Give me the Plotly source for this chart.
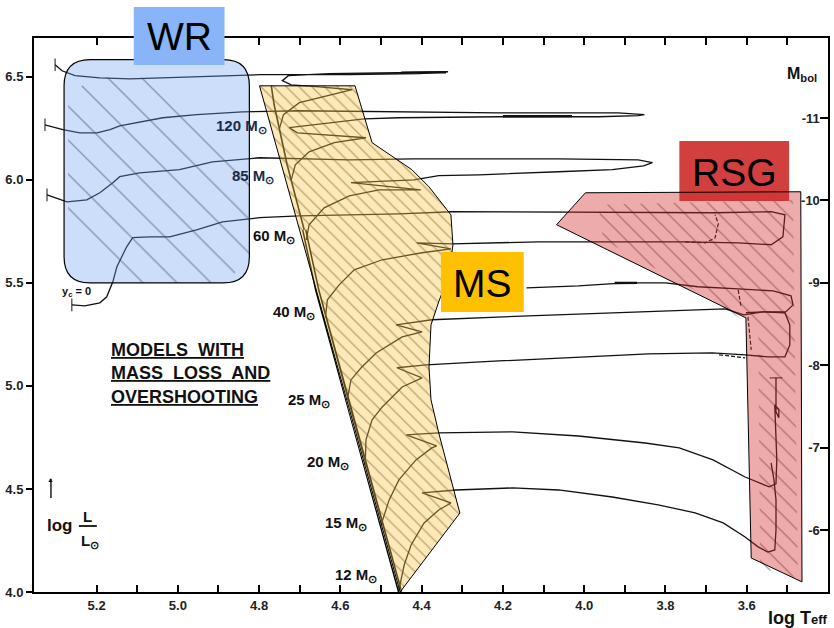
import plotly.graph_objects as go

# ---------------- axes ----------------
logT_range = [5.354, 3.40]
logL_range = [4.0, 6.688]
logT_ticks = [5.2, 5.0, 4.8, 4.6, 4.4, 4.2, 4.0, 3.8, 3.6]
logT_ticktext = ["5.2", "5.0", "4.8", "4.6", "4.4", "4.2", "4.0", "3.8", "3.6"]
logT_minor_ticks = [5.1, 4.9, 4.7, 4.5, 4.3, 4.1, 3.9, 3.7, 3.5]
logL_ticks = [4.0, 4.5, 5.0, 5.5, 6.0, 6.5]
logL_ticktext = ["4.0", "4.5", "5.0", "5.5", "6.0", "6.5"]
mbol_ticks = [-11, -10, -9, -8, -7, -6]
mbol_ticktext = ["-11", "-10", "-9", "-8", "-7", "-6"]

# ---------------- ZAMS ----------------
zams_logT = [4.453, 4.574, 4.657, 4.689, 4.731, 4.763, 4.770]
zams_logL = [4.000, 4.859, 5.466, 5.757, 6.073, 6.364, 6.456]

# ---------------- evolutionary tracks ----------------
m120_logT = [4.750, 4.740, 4.701, 4.628, 4.571, 4.652, 4.721, 4.743, 4.728, 4.628, 4.335, 4.407, 4.578, 4.799, 4.947, 5.118, 5.192, 5.253, 5.285, 5.302]
m120_logL = [6.248, 6.316, 6.374, 6.408, 6.437, 6.451, 6.461, 6.481, 6.505, 6.515, 6.524, 6.515, 6.510, 6.510, 6.500, 6.490, 6.495, 6.505, 6.529, 6.558]

m85_logT = [4.721, 4.711, 4.677, 4.615, 4.537, 4.706, 4.726, 4.628, 4.542, 4.456, 4.210, 3.965, 3.867, 3.852, 3.916, 4.210, 4.456, 4.701, 4.841, 4.954, 5.037, 5.143, 5.167, 5.199, 5.241, 5.283, 5.327]
m85_logL = [6.000, 6.073, 6.136, 6.180, 6.204, 6.228, 6.253, 6.277, 6.296, 6.301, 6.306, 6.306, 6.311, 6.316, 6.325, 6.325, 6.330, 6.335, 6.330, 6.316, 6.301, 6.262, 6.243, 6.228, 6.228, 6.243, 6.267]

m60_logT = [4.684, 4.677, 4.640, 4.578, 4.505, 4.402, 4.574, 4.419, 4.358, 4.259, 4.063, 3.931, 3.854, 3.832, 3.867, 4.063, 4.257, 4.421, 4.578, 4.799, 4.915, 4.996, 5.094, 5.143, 5.160, 5.192, 5.224, 5.273, 5.322]
m60_logL = [5.709, 5.782, 5.864, 5.922, 5.951, 5.951, 5.986, 6.000, 6.020, 6.024, 6.039, 6.049, 6.068, 6.083, 6.097, 6.102, 6.102, 6.102, 6.097, 6.107, 6.087, 6.049, 6.034, 6.015, 5.986, 5.937, 5.903, 5.893, 5.927]

m40_logT = [4.637, 4.632, 4.603, 4.566, 4.497, 4.399, 4.328, 4.412, 4.326, 4.112, 3.751, 3.621, 3.540, 3.511, 3.506, 3.540, 3.678, 4.112, 4.326, 4.456, 4.701, 4.799, 4.890, 4.954, 5.020, 5.069, 5.111, 5.126, 5.135, 5.150, 5.160, 5.175, 5.192, 5.229, 5.261]
m40_logL = [5.330, 5.418, 5.490, 5.563, 5.612, 5.646, 5.665, 5.694, 5.689, 5.699, 5.699, 5.694, 5.685, 5.723, 5.830, 5.845, 5.840, 5.845, 5.845, 5.835, 5.825, 5.816, 5.796, 5.757, 5.723, 5.723, 5.719, 5.675, 5.636, 5.578, 5.505, 5.432, 5.403, 5.388, 5.393]

m25_logT = [4.583, 4.574, 4.549, 4.512, 4.448, 4.399, 4.463, 4.375, 4.137, 3.891, 3.653, 3.607, 3.560, 3.504, 3.486, 3.491, 3.535, 3.621, 3.720, 3.800, 3.899, 4.014, 4.142]
m25_logL = [4.932, 5.029, 5.088, 5.160, 5.238, 5.262, 5.296, 5.321, 5.340, 5.359, 5.374, 5.345, 5.359, 5.359, 5.393, 5.437, 5.461, 5.471, 5.481, 5.500, 5.500, 5.485, 5.476]

m20_logT = [4.539, 4.537, 4.522, 4.497, 4.448, 4.399, 4.461, 4.389, 4.210, 4.011, 3.842, 3.685, 3.604, 3.548, 3.506, 3.494, 3.494, 3.506, 3.560, 3.602]
m20_logL = [4.617, 4.738, 4.835, 4.898, 4.995, 5.039, 5.088, 5.102, 5.121, 5.141, 5.155, 5.160, 5.151, 5.141, 5.141, 5.199, 5.296, 5.355, 5.359, 5.355]

m15_logT = [4.500, 4.480, 4.456, 4.414, 4.375, 4.363, 4.438, 4.358, 4.176, 4.014, 3.850, 3.766, 3.683, 3.604, 3.545, 3.528, 3.526, 3.528, 3.531, 3.531, 3.521, 3.521, 3.528, 3.528, 3.528]
m15_logL = [4.325, 4.447, 4.544, 4.641, 4.699, 4.709, 4.762, 4.772, 4.777, 4.757, 4.723, 4.699, 4.641, 4.558, 4.510, 4.525, 4.641, 4.738, 4.845, 4.908, 4.884, 4.845, 4.874, 4.956, 5.039]

m12_logT = [4.456, 4.443, 4.426, 4.394, 4.358, 4.328, 4.399, 4.316, 4.176, 4.063, 3.931, 3.818, 3.727, 3.658, 3.604, 3.572, 3.548, 3.531, 3.528, 3.528, 3.533, 3.540]
m12_logL = [4.010, 4.131, 4.228, 4.335, 4.398, 4.432, 4.481, 4.495, 4.505, 4.495, 4.461, 4.423, 4.384, 4.335, 4.267, 4.219, 4.194, 4.204, 4.301, 4.447, 4.544, 4.626]

# thick (slow-evolution) stretches of some tracks
thick120_logT = [4.450, 4.340]
thick120_logL = [6.520, 6.522]
thick85_logT = [4.200, 4.030]
thick85_logL = [6.308, 6.309]
thick25_logT = [3.925, 3.870]
thick25_logL = [5.499, 5.500]

# dashed variants in the red-supergiant region
dash40_logT = [3.751, 3.702, 3.678, 3.670, 3.678]
dash40_logL = [5.699, 5.694, 5.718, 5.787, 5.830]
dash25_logT = [3.621, 3.614]
dash25_logL = [5.466, 5.384]
dash20_logT = [3.668, 3.604]
dash20_logL = [5.151, 5.136]
dashrsg_logT = [3.597, 3.589]
dashrsg_logL = [5.335, 5.175]

# ---------------- mass labels ----------------
mass_label_text = ["120 M<sub>⊙</sub>", "85 M<sub>⊙</sub>", "60 M<sub>⊙</sub>", "40 M<sub>⊙</sub>",
                   "25 M<sub>⊙</sub>", "20 M<sub>⊙</sub>", "15 M<sub>⊙</sub>", "12 M<sub>⊙</sub>"]
mass_label_logT = [4.775, 4.758, 4.708, 4.657, 4.620, 4.574, 4.529, 4.505]
mass_label_logL = [6.257, 6.015, 5.723, 5.355, 4.927, 4.626, 4.330, 4.078]
mass_label_color = ["#1d2b48", "#1d2b48", "#111", "#111", "#111", "#111", "#111", "#111"]

# ---------------- highlighted regions ----------------
ms_band_logT = [4.799, 4.564, 4.522, 4.424, 4.382, 4.328, 4.323, 4.333, 4.358, 4.377, 4.382, 4.377, 4.358, 4.306, 4.453]
ms_band_logL = [6.456, 6.456, 6.180, 6.049, 5.966, 5.830, 5.684, 5.539, 5.408, 5.296, 5.092, 4.932, 4.772, 4.383, 4.000]

rsg_zone_logT = [4.068, 3.997, 3.467, 3.464, 3.589, 3.602]
rsg_zone_logL = [5.782, 5.937, 5.942, 4.049, 4.165, 5.330]

wr_box_logT = [5.280, 4.824]   # left, right
wr_box_logL = [5.500, 6.583]   # bottom, top

wr_hatch_logT = [5.270, 5.216, 5.032, 4.934, 4.824, 4.824, 4.878, 5.106, 5.270]
wr_hatch_logL = [6.388, 6.495, 6.495, 6.253, 6.097, 5.636, 5.500, 5.500, 5.757]

rsg_hatch_logT = [3.965, 3.486, 3.474, 3.567, 3.572, 3.720, 3.953]
rsg_hatch_logL = [5.879, 5.903, 4.068, 4.117, 5.272, 5.456, 5.709]

FONT = "Liberation Sans, Arial, Helvetica, sans-serif"

# pixel -> paper helpers for the decorations outside the data frame
L_M, R_M, T_M, B_M, W, H = 34, 4, 38, 36, 834, 628
PW, PH = W - L_M - R_M, H - T_M - B_M


def px(x):
    return (x - L_M) / PW


def py(y):
    return (H - B_M - y) / PH


fig = go.Figure()

# hatching (drawn under the translucent overlays)
for hx, hy, size, sol, col in [
    (wr_hatch_logT, wr_hatch_logL, 24, 0.055, "#1a1a1a"),
    (ms_band_logT, ms_band_logL, 9, 0.14, "#222222"),
    (rsg_hatch_logT, rsg_hatch_logL, 12, 0.1, "#1a1a1a"),
]:
    fig.add_trace(go.Scatter(
        x=hx, y=hy, mode="lines", fill="toself", line=dict(width=0),
        fillcolor="rgba(0,0,0,0)",
        fillpattern=dict(shape="\\", fgcolor=col, bgcolor="rgba(0,0,0,0)", size=size, solidity=sol),
        hoverinfo="skip", showlegend=False))

# ZAMS (thin upper part, double line lower down)
fig.add_trace(go.Scatter(x=zams_logT, y=zams_logL, mode="lines",
                         line=dict(color="#111", width=1.6), hoverinfo="skip"))
fig.add_trace(go.Scatter(x=zams_logT[:4], y=zams_logL[:4], mode="lines",
                         line=dict(color="black", width=4.5), hoverinfo="skip"))
fig.add_trace(go.Scatter(x=zams_logT[:4], y=zams_logL[:4], mode="lines",
                         line=dict(color="white", width=1.5), hoverinfo="skip"))

tracks = [
    (m120_logT, m120_logL, "line-ns"),
    (m85_logT, m85_logL, "line-ns"),
    (m60_logT, m60_logL, "line-ns"),
    (m40_logT, m40_logL, "line-ns"),
    (m25_logT, m25_logL, None),
    (m20_logT, m20_logL, None),
    (m15_logT, m15_logL, "line-ew"),
    (m12_logT, m12_logL, None),
]
for tx, ty, endsym in tracks:
    sizes = [0] * (len(tx) - 1) + [9 if endsym else 0]
    fig.add_trace(go.Scatter(
        x=tx, y=ty, mode="lines+markers",
        line=dict(color="#111", width=1.3),
        marker=dict(symbol=endsym or "line-ns", size=sizes, color="#111",
                    line=dict(color="#111", width=1.4)),
        hoverinfo="skip", showlegend=False))

for kx, ky in [(thick120_logT, thick120_logL), (thick85_logT, thick85_logL), (thick25_logT, thick25_logL)]:
    fig.add_trace(go.Scatter(x=kx, y=ky, mode="lines", line=dict(color="#111", width=2.4),
                             hoverinfo="skip", showlegend=False))

for dx, dy in [(dash40_logT, dash40_logL), (dash25_logT, dash25_logL),
               (dash20_logT, dash20_logL), (dashrsg_logT, dashrsg_logL)]:
    fig.add_trace(go.Scatter(x=dx, y=dy, mode="lines",
                             line=dict(color="#111", width=1.2, dash="4px,2px"),
                             hoverinfo="skip", showlegend=False))

# dummy trace for the M_bol axis
fig.add_trace(go.Scatter(x=[None], y=[None], yaxis="y2", showlegend=False))


def poly_path(xs, ys):
    return "M " + " L ".join(f"{a},{b}" for a, b in zip(xs, ys)) + " Z"


xl, xr = wr_box_logT
yb, yt = wr_box_logL
rT, rL = 0.064, 0.127
wr_path = (f"M {xl - rT},{yt} L {xr + rT},{yt} Q {xr},{yt} {xr},{yt - rL} "
           f"L {xr},{yb + rL} Q {xr},{yb} {xr + rT},{yb} L {xl - rT},{yb} "
           f"Q {xl},{yb} {xl},{yb + rL} L {xl},{yt - rL} Q {xl},{yt} {xl - rT},{yt} Z")

shapes = [
    dict(type="path", path=wr_path, xref="x", yref="y", layer="above",
         fillcolor="rgba(110,160,240,0.35)", line=dict(color="black", width=1.2)),
    dict(type="path", path=poly_path(ms_band_logT, ms_band_logL), xref="x", yref="y", layer="above",
         fillcolor="rgba(250,197,66,0.38)", line=dict(color="black", width=1)),
    # RSG label box (under the RSG overlay)
    dict(type="rect", xref="paper", yref="paper", x0=px(681), x1=px(791), y0=py(201), y1=py(141),
         fillcolor="#D13F3F", line=dict(width=0), layer="above"),
    dict(type="path", path=poly_path(rsg_zone_logT, rsg_zone_logL), xref="x", yref="y", layer="above",
         fillcolor="rgba(210,45,45,0.40)", line=dict(color="black", width=1)),
    # WR and MS label boxes
    dict(type="rect", xref="paper", yref="paper", x0=px(134), x1=px(225), y0=py(65), y1=py(7),
         fillcolor="#8AB4F8", line=dict(width=0), layer="above"),
    dict(type="rect", xref="paper", yref="paper", x0=px(442), x1=px(525), y0=py(312), y1=py(252),
         fillcolor="#FFC000", line=dict(width=0), layer="above"),
    # fraction bar of log L/L_sun
    dict(type="line", xref="paper", yref="paper", x0=px(79), x1=px(97), y0=py(526), y1=py(526),
         line=dict(color="#111", width=1.8)),
    # luminosity arrow shaft
    dict(type="line", xref="paper", yref="paper", x0=px(51), x1=px(51), y0=py(498), y1=py(479),
         line=dict(color="#111", width=1.4)),
]


def txt_ann(text, x, y, size, xanchor="center", color="#111", weight="bold"):
    return dict(x=px(x), y=py(y), xref="paper", yref="paper", text=text, showarrow=False,
                xanchor=xanchor, yanchor="middle",
                font=dict(family=FONT, size=size, color=color, weight=weight))


ann = []
for t, x, y, c in zip(mass_label_text, mass_label_logT, mass_label_logL, mass_label_color):
    ann.append(dict(x=x, y=y, xref="x", yref="y", text=t, showarrow=False, xanchor="right",
                    yanchor="middle", font=dict(family=FONT, size=15, color=c, weight="bold")))

for t, cx, cy in [("WR", 179.5, 37), ("RSG", 736, 172), ("MS", 483.5, 283)]:
    ann.append(txt_ann(t, cx, cy, 39, color="black", weight="normal"))

for t, cy in [("<u>MODELS\u00a0 WITH</u>", 350), ("<u>MASS\u00a0 LOSS\u00a0 AND</u>", 373),
              ("<u>OVERSHOOTING</u>", 397)]:
    ann.append(txt_ann(t, 109, cy, 18, xanchor="left"))

ann += [
    txt_ann("y<sub>c</sub> = 0", 77, 292, 11),
    txt_ann("M<sub>bol</sub>", 821, 75, 16, xanchor="right"),
    txt_ann("log T<span style='font-size:13px'>eff</span>", 832, 618, 18, xanchor="right"),
    txt_ann("log", 60, 525, 17),
    txt_ann("L", 88, 516, 15),
    txt_ann("L<sub>⊙</sub>", 90, 541, 15),
    txt_ann("▲", 51, 479, 7),
]

tickfont = dict(family=FONT, size=13, color="#222", weight="bold")
fig.update_layout(
    width=W, height=H,
    margin=dict(l=L_M, r=R_M, t=T_M, b=B_M, pad=0),
    paper_bgcolor="white", plot_bgcolor="white",
    showlegend=False,
    xaxis=dict(range=logT_range, tickmode="array", tickvals=logT_ticks, ticktext=logT_ticktext,
               ticks="inside", ticklen=7, tickwidth=1.5, tickcolor="black",
               minor=dict(tickmode="array", tickvals=logT_minor_ticks, ticks="inside", ticklen=7,
                          tickwidth=1.5, tickcolor="black", showgrid=False),
               showline=True, linewidth=2, linecolor="black", mirror="ticks",
               showgrid=False, zeroline=False, tickfont=tickfont),
    yaxis=dict(range=logL_range, tickvals=logL_ticks, ticktext=logL_ticktext,
               ticks="outside", ticklen=6, tickwidth=1.5, tickcolor="black",
               showline=True, linewidth=2, linecolor="black", mirror=True,
               showgrid=False, zeroline=False, tickfont=tickfont),
    yaxis2=dict(overlaying="y", side="right", range=[4.75 - 2.5 * logL_range[0], 4.75 - 2.5 * logL_range[1]],
                tickvals=mbol_ticks, ticktext=mbol_ticktext, ticks="inside", ticklen=8,
                tickwidth=1.5, tickcolor="black", ticklabelposition="inside",
                showline=True, linewidth=1.5, linecolor="black",
                showgrid=False, zeroline=False, tickfont=tickfont),
    shapes=shapes,
    annotations=ann,
)

fig.write_html("out.html", config={"displayModeBar": False},
               post_script="document.body.style.margin='0';document.body.style.padding='0';")
